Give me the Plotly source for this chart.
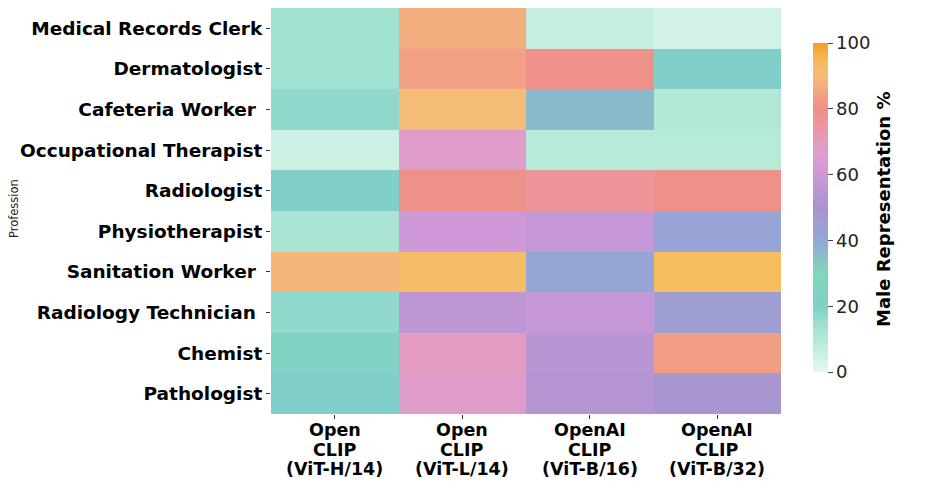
import plotly.graph_objects as go

professions = [
    "Medical Records Clerk",
    "Dermatologist",
    "Cafeteria Worker ",
    "Occupational Therapist",
    "Radiologist",
    "Physiotherapist",
    "Sanitation Worker ",
    "Radiology Technician ",
    "Chemist",
    "Pathologist",
]
models = [
    "Open\nCLIP\n(ViT-H/14)",
    "Open\nCLIP\n(ViT-L/14)",
    "OpenAI\nCLIP\n(ViT-B/16)",
    "OpenAI\nCLIP\n(ViT-B/32)",
]
openclip_h14 = [14, 14, 17, 5, 20, 12, 89, 17, 24, 20]
openclip_l14 = [87, 84, 90, 67, 79, 61, 93, 56, 70, 67]
openai_b16 = [6, 79, 36, 9, 76, 58, 41, 58, 54, 53]
openai_b32 = [4, 20, 10, 9, 79, 42, 94, 45, 83, 49]
cbar_ticks = [0, 20, 40, 60, 80, 100]

columns = [openclip_h14, openclip_l14, openai_b16, openai_b32]
z = [[col[i] for col in columns] for i in range(len(professions))]

colorscale = [
    [0.00, "#e8f8f3"],
    [0.05, "#cdf0e5"],
    [0.10, "#b2e8d6"],
    [0.15, "#9cdfd0"],
    [0.20, "#80cfc9"],
    [0.30, "#80d8b8"],
    [0.40, "#92a8d6"],
    [0.50, "#ab93cf"],
    [0.60, "#cc98d8"],
    [0.66, "#de9dcf"],
    [0.71, "#e59abb"],
    [0.76, "#ed9599"],
    [0.80, "#f09086"],
    [0.85, "#f2a583"],
    [0.90, "#f5bc78"],
    [0.94, "#f5bc60"],
    [1.00, "#f4a020"],
]

font_family = "DejaVu Sans"

# page has an 8px body margin; figure sized to fit inside the window
OFF = 8
W, H = 918, 481
L, T = 263, 0
PW, PH = 510, 406
B = H - T - PH
R = W - L - PW


def px_to_paper_x(px):
    return (px - OFF - L) / PW


def px_to_paper_y(py):
    return 1 - (py - OFF - T) / PH


fig = go.Figure(
    go.Heatmap(
        z=z,
        x=models,
        y=professions,
        zmin=0,
        zmax=100,
        colorscale=colorscale,
        colorbar=dict(
            tickvals=cbar_ticks,
            tickfont=dict(size=18, color="#222", family=font_family),
            ticks="outside",
            ticklen=5,
            tickcolor="#444",
            thickness=15,
            len=329 / PH,
            lenmode="fraction",
            x=px_to_paper_x(813),
            xanchor="left",
            xpad=0,
            y=px_to_paper_y(207.5),
            yanchor="middle",
            ypad=0,
            outlinewidth=0,
        ),
    )
)

fig.update_layout(
    width=W,
    height=H,
    margin=dict(l=L, r=R, t=T, b=B, autoexpand=False),
    paper_bgcolor="white",
    plot_bgcolor="white",
    font=dict(family=font_family, color="black"),
)

fig.update_yaxes(
    autorange="reversed",
    tickvals=professions,
    ticktext=["<b>" + p.replace(" ", "\u00a0") + "</b>" for p in professions],
    tickfont=dict(size=18.5, color="black", family=font_family),
    ticks="outside",
    ticklen=4,
    tickcolor="#333",
    showline=False,
    showgrid=False,
)
fig.update_xaxes(
    tickvals=models,
    showticklabels=False,
    ticks="outside",
    ticklen=4,
    tickcolor="#333",
    showline=False,
    showgrid=False,
)

line_offsets = [16, 36, 55]
for m in models:
    for j, part in enumerate(m.split("\n")):
        fig.add_annotation(
            text="<b>" + part + "</b>",
            x=m,
            xref="x",
            y=0,
            yref="paper",
            yshift=-line_offsets[j],
            showarrow=False,
            xanchor="center",
            yanchor="middle",
            font=dict(size=17.5, color="black", family=font_family),
        )

# colorbar title
fig.add_annotation(
    text="<b>Male Representation %</b>",
    xref="paper",
    yref="paper",
    x=px_to_paper_x(883),
    y=px_to_paper_y(209),
    showarrow=False,
    textangle=-90,
    xanchor="center",
    yanchor="middle",
    font=dict(size=18, color="black", family=font_family),
)

# y-axis title
fig.add_annotation(
    text="Profession",
    xref="paper",
    yref="paper",
    x=px_to_paper_x(14),
    y=px_to_paper_y(209),
    showarrow=False,
    textangle=-90,
    font=dict(size=11.5, color="#222", family=font_family),
    xanchor="center",
    yanchor="middle",
)

fig.write_html("out.html")
